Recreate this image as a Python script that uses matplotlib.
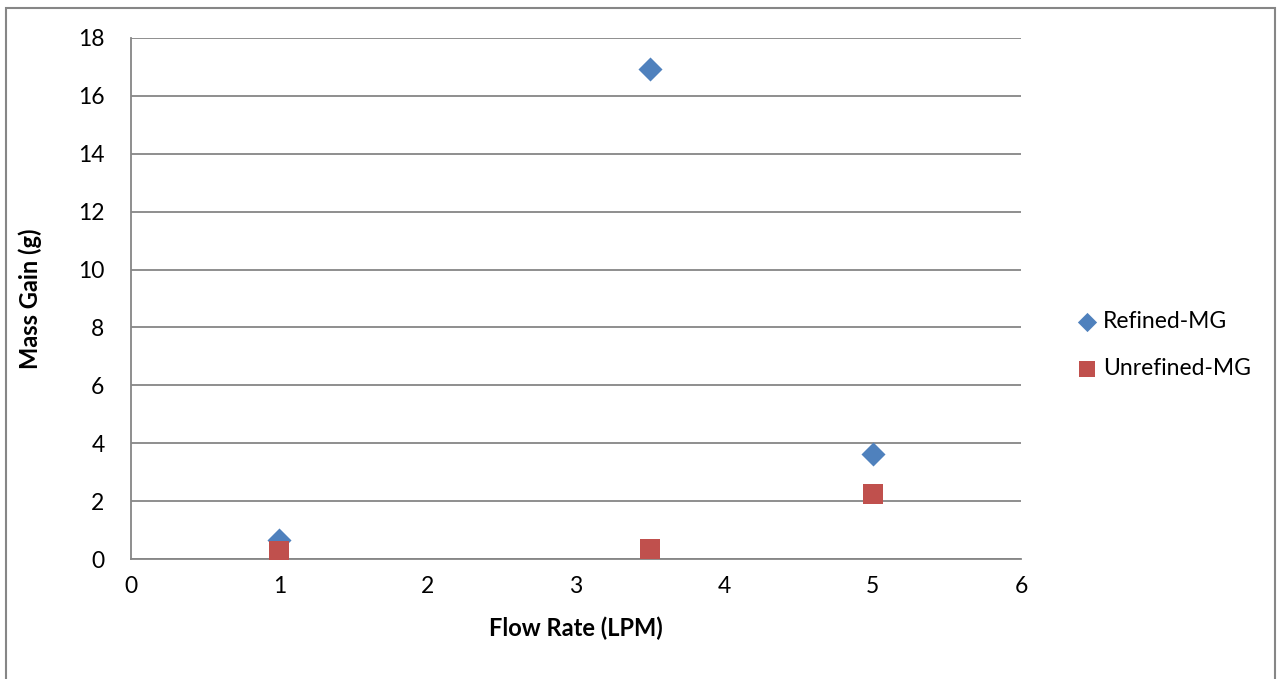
import matplotlib.pyplot as plt
from matplotlib.patches import Rectangle

plt.rcParams['font.family'] = ['Lato', 'DejaVu Sans']

# flow rate (LPM) vs mass gain (g)
refined_x = [1, 3.5, 5]
refined_mg = [0.66, 16.93, 3.64]
unrefined_x = [1, 3.5, 5]
unrefined_mg = [0.26, 0.36, 2.25]

x_ticks = [0, 1, 2, 3, 4, 5, 6]
y_ticks = [0, 2, 4, 6, 8, 10, 12, 14, 16, 18]

fig = plt.figure(figsize=(12.77, 6.79), dpi=100)
ax = fig.add_axes([131 / 1277, 1 - 559 / 679, 890 / 1277, 521 / 679])

grey = '#868686'
ax.scatter(refined_x, refined_mg, marker='D', s=150, color='#4f81bd',
           label='Refined-MG', zorder=3, linewidths=0)
ax.scatter(unrefined_x, unrefined_mg, marker='s', s=215, color='#c0504d',
           label='Unrefined-MG', zorder=3, linewidths=0)

ax.set_xlim(0, 6)
ax.set_ylim(0, 18)
ax.set_xticks(x_ticks)
ax.set_yticks(y_ticks)
ax.tick_params(length=0, labelsize=16.5)
ax.tick_params(axis='y', pad=19)
ax.tick_params(axis='x', pad=12)
ax.grid(axis='y', color=grey, linewidth=1.3)
ax.set_axisbelow(True)
for side in ['top', 'right']:
    ax.spines[side].set_visible(False)
for side in ['left', 'bottom']:
    ax.spines[side].set_color(grey)
    ax.spines[side].set_linewidth(1.3)

ax.set_xlabel('Flow Rate (LPM)', fontsize=17, fontweight='bold', labelpad=14)
ax.set_ylabel('Mass Gain (g)', fontsize=17, fontweight='bold', labelpad=26)

fig.legend(loc='center left', bbox_to_anchor=(1050 / 1277, 1 - 345 / 679),
           frameon=False, fontsize=16.5, handletextpad=0.0, labelspacing=1.1,
           markerscale=0.8, handlelength=1.4)

# chart border
fig.patches.append(Rectangle((6 / 1277, -0.05), 1269 / 1277, 1 - 8 / 679 + 0.05,
                             transform=fig.transFigure, fill=False,
                             edgecolor=grey, linewidth=1.5))

fig.savefig('out.png', dpi=100)
